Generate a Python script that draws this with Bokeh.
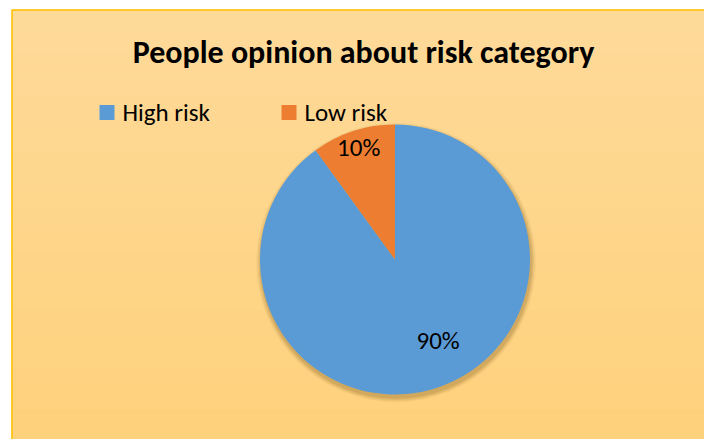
import numpy as np
from bokeh.plotting import figure
from bokeh.models import Range1d
from bokeh.core.properties import value
from bokeh.embed import file_html
from bokeh.resources import INLINE

# ---- data ----
title_text = "People opinion about risk category"
categories = ["High risk", "Low risk"]
values = [90, 10]
colors = ["#5B9BD5", "#ED7D31"]

W, H = 704, 439
p = figure(width=W, height=H, x_range=Range1d(0, W), y_range=Range1d(0, H),
           output_backend="svg", toolbar_location=None, min_border=0)
p.axis.visible = False
p.grid.visible = False
p.outline_line_color = None
p.background_fill_color = "white"
p.border_fill_color = "white"

def Y(y):  # pixel-from-top to data
    return H - y

FONT = value("Carlito, Lato")

# chart area background with vertical gradient
left, top = 11.5, 9.5
n = 30
c0 = np.array([0xFE, 0xDA, 0x99])
c1 = np.array([0xFE, 0xD1, 0x7C])
edges = np.linspace(top, H, n + 1)
band_cols = []
for i in range(n):
    t = i / (n - 1)
    c = (c0 * (1 - t) + c1 * t).round().astype(int)
    band_cols.append("#%02x%02x%02x" % tuple(c))
p.quad(left=[left] * n, right=[W] * n, top=[Y(e) for e in edges[:-1]],
       bottom=[Y(e) - 2 for e in edges[1:]], fill_color=band_cols,
       line_color=band_cols, line_width=1)
p.quad(left=[left], right=[W + 5], top=[Y(top)], bottom=[-5], fill_color=None,
       line_color="#FFC000", line_width=1.5)

# title
p.text(x=[363], y=[Y(52)], text=[title_text], text_font=FONT,
       text_font_style="bold", text_font_size="32px", text_align="center",
       text_baseline="middle", text_color="#000000")

# pie
cx, cy, R = 394.5, Y(259), 135
vals = np.array(values, dtype=float)
frac = vals / vals.sum()
cum = np.concatenate([[0], np.cumsum(frac)])
start_cw = np.pi / 2 - cum[:-1] * 2 * np.pi
end_cw = np.pi / 2 - cum[1:] * 2 * np.pi

# shadow
for k, a in zip([8, 6, 4, 2], [0.05, 0.07, 0.09, 0.12]):
    p.circle(x=[cx + 1], y=[cy - 3], radius=R + k * 0.6, fill_color="#6b4a10",
             fill_alpha=a, line_color=None)

p.wedge(x=[cx] * len(vals), y=[cy] * len(vals), radius=R,
        start_angle=list(end_cw), end_angle=list(start_cw), direction="anticlock",
        fill_color=colors, line_color=None)

# labels
mid = (start_cw + end_cw) / 2
label_r = [0.68, 0.87]
label_shift = [np.deg2rad(10), 0.0]
lx = [cx + R * r * np.cos(m + s) for r, m, s in zip(label_r, mid, label_shift)]
ly = [cy + R * r * np.sin(m + s) for r, m, s in zip(label_r, mid, label_shift)]
p.text(x=lx, y=ly, text=["%d%%" % v for v in values], text_font=FONT,
       text_font_size="25px", text_align="center", text_baseline="middle", text_color="#000000")

# legend
leg_x = [99, 281]
leg_y = Y(112)
p.rect(x=[x + 7.5 for x in leg_x], y=[leg_y] * 2, width=15, height=15,
       fill_color=colors, line_color=None)
p.text(x=[x + 23 for x in leg_x], y=[leg_y] * 2, text=categories,
       text_font=FONT, text_font_size="25px",
       text_align="left", text_baseline="middle", text_color="#000000")

open("out.html", "w").write(file_html(p, INLINE))
